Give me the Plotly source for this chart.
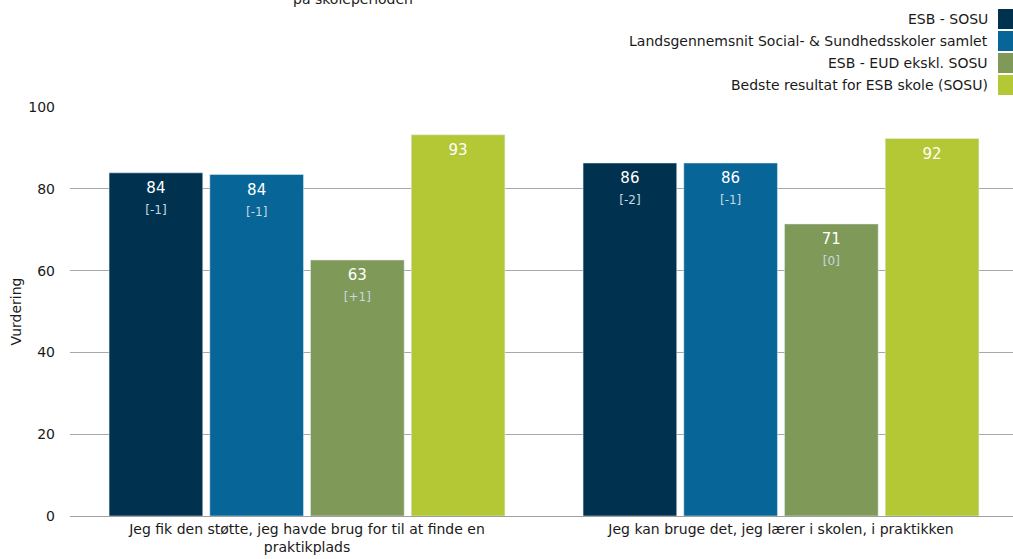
import plotly.graph_objects as go

categories = [
    "Jeg fik den støtte, jeg havde brug for til at finde en<br>praktikplads",
    "Jeg kan bruge det, jeg lærer i skolen, i praktikken",
]
series_names = [
    "ESB - SOSU",
    "Landsgennemsnit Social- & Sundhedsskoler samlet",
    "ESB - EUD ekskl. SOSU",
    "Bedste resultat for ESB skole (SOSU)",
]
esb_sosu = [83.9, 86.3]
landsgennemsnit = [83.5, 86.3]
esb_eud = [62.6, 71.4]
bedste = [93.2, 92.3]
changes = [
    ["-1", "-2"],
    ["-1", "-1"],
    ["+1", "0"],
    None,
]
colors = ["#00324f", "#076597", "#7f9959", "#b4c734"]

series_values = [esb_sosu, landsgennemsnit, esb_eud, bedste]
FONT = "DejaVu Sans"

fig = go.Figure()
for name, vals, chg, col in zip(series_names, series_values, changes, colors):
    texts = []
    for j, v in enumerate(vals):
        t = f"&nbsp;<br><span style='font-size:15px'>{round(v)}</span>"
        if chg:
            t += f"<br>&nbsp;<br><span style='font-size:12px;color:#c9d6e0'>[{chg[j]}]</span>"
        texts.append(t)
    fig.add_trace(go.Bar(
        x=categories, y=vals, name=name, marker_color=col,
        text=texts, texttemplate="%{text}", textposition="inside",
        insidetextanchor="end", textangle=0,
        textfont=dict(family=FONT, size=8, color="white"),
        showlegend=False,
    ))

# legend drawn on the right with swatches after the text, as in the original
for i, (name, col) in enumerate(zip(series_names, colors)):
    ypx = 19 + 22 * i
    yp = (516 - ypx) / 409
    fig.add_annotation(xref="paper", yref="paper", x=(990 - 70) / 943, y=yp,
                       xanchor="right", yanchor="middle", text=name, showarrow=False,
                       font=dict(family=FONT, size=14, color="#1a1a1a"))
    fig.add_shape(type="rect", xref="paper", yref="paper",
                  x0=(998 - 70) / 943, x1=(1013 - 70) / 943,
                  y0=yp - 10 / 409, y1=yp + 10 / 409,
                  fillcolor=col, line_width=0)

fig.add_annotation(xref="paper", yref="paper", x=(353 - 70) / 943, y=(516 - 9) / 409,
                   xanchor="center", yanchor="bottom", text="på skoleperioden",
                   showarrow=False, font=dict(family=FONT, size=14, color="#1a1a1a"))

fig.update_layout(
    width=1013, height=559,
    margin=dict(l=70, r=0, t=107, b=43),
    paper_bgcolor="white", plot_bgcolor="white",
    barmode="group", bargap=0.15, bargroupgap=0.07,
    font=dict(family=FONT, size=14, color="#1a1a1a"),
)
fig.update_xaxes(range=[-0.5, 1.4895], showgrid=False, ticks="",
                 showline=True, linecolor="#a0a0a0", linewidth=1,
                 tickfont=dict(family=FONT, size=14, color="#1a1a1a"))
fig.update_yaxes(range=[0, 100], tick0=0, dtick=20, showgrid=True,
                 gridcolor="#a8a8a8", gridwidth=1, zeroline=False,
                 ticks="", ticklabelstandoff=14,
                 title=dict(text="Vurdering", standoff=3,
                            font=dict(family=FONT, size=14, color="#1a1a1a")),
                 tickfont=dict(family=FONT, size=14, color="#1a1a1a"))

fig.write_html("out.html", config={"displayModeBar": False},
               post_script="document.body.style.margin='0';document.body.style.overflow='hidden';")
